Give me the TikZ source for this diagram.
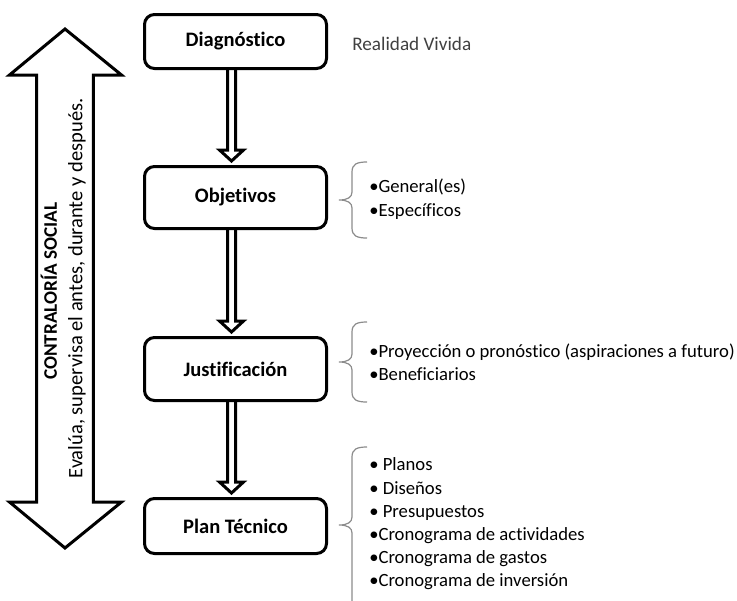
\documentclass[tikz,border=0pt]{standalone}
\usepackage{fontspec}
\setmainfont{Carlito}[Ligatures={NoCommon}]
\usetikzlibrary{calc}
\definecolor{braceg}{HTML}{8C8C8C}
\definecolor{txtg}{HTML}{404040}
\newcommand{\hollowarrow}[2]{%
  \draw[flowarrow] ($(#1.south)+(-8,0)$) -- ($(#2.north)+(-8,-15)$) -- ($(#2.north)+(-16,-15)$)
    -- ($(#2.north)+(-4,-4)$) -- ($(#2.north)+(8,-15)$) -- ($(#2.north)+(0,-15)$) -- ($(#1.south)+(0,0)$);}
\newcommand{\mybrace}[3]{%
  \draw[bracestyle] (367,#1) .. controls (357,#1) and (352,#1+2) .. (352,#1+10)
    -- (352,#2-8) .. controls (352,#2-3) and (348,#2) .. (339,#2)
    .. controls (348,#2) and (352,#2+3) .. (352,#2+8)
    -- (352,#3-10) .. controls (352,#3-2) and (357,#3) .. (367,#3);}
\begin{document}
\begin{tikzpicture}[x=0.75pt,y=-0.75pt,
  stepbox/.style={draw=black, line width=2.25pt, rounded corners=7.5pt, minimum width=136.5pt,
    font=\fontsize{15.4}{18}\selectfont\bfseries, inner sep=0pt},
  flowarrow/.style={draw=black, line width=2.25pt, line join=miter},
  bigarrow/.style={draw=black, line width=2.25pt, line join=miter},
  bracestyle/.style={draw=braceg, line width=0.9pt},
  listtext/.style={anchor=west, align=left, inner sep=0pt, font=\fontsize{14}{17.6}\selectfont},
  sidetext/.style={rotate=90, inner sep=0pt, font=\fontsize{15.4}{17}\selectfont}]
\useasboundingbox (0,0) rectangle (737,600);
\clip (0,0) rectangle (737,600);
\fill[white] (0,0) rectangle (737,600);

% big double arrow
\draw[bigarrow] (65,29) -- (121.5,75) -- (93.3,75) -- (93.3,502) -- (121.5,502) -- (65,548)
  -- (9.5,502) -- (36.7,502) -- (36.7,75) -- (9.5,75) -- cycle;
\node[sidetext, font=\fontsize{14.4}{17}\selectfont\bfseries] (cs) at (49,291) {CONTRALORÍA SOCIAL};
\node[sidetext] (ev) at (77,288.5) {Evalúa, supervisa el antes, durante y después.};

% boxes
\node[stepbox, minimum height=40.5pt] (diag) at (235.5,41.5) {Diagnóstico};
\node[stepbox, minimum height=46.5pt] (obj) at (235.5,197.5) {Objetivos};
\node[stepbox, minimum height=47.25pt] (just) at (235.5,369) {Justificación};
\node[stepbox, minimum height=41.25pt] (plan) at (235.5,526) {Plan Técnico};

\hollowarrow{diag}{obj}
\hollowarrow{obj}{just}
\hollowarrow{just}{plan}

% side texts
\node[listtext, text=txtg, font=\fontsize{14.4}{17.6}\selectfont] (rv) at (352,44) {Realidad Vivida};

\mybrace{162}{200}{238}
\node[listtext] (objl) at (369,199) {•General(es)\\•Específicos};

\mybrace{322}{362}{402}
\node[listtext] (justl) at (369,362) {•Proyección o pronóstico (aspiraciones a futuro)\\•Beneficiarios};

\mybrace{447}{525}{640}
\node[listtext, font=\fontsize{14}{17.4}\selectfont] (planl) at (369,524) {• Planos\\• Diseños\\• Presupuestos\\•Cronograma de actividades\\•Cronograma de gastos\\•Cronograma de inversión};
\end{tikzpicture}
\end{document}
